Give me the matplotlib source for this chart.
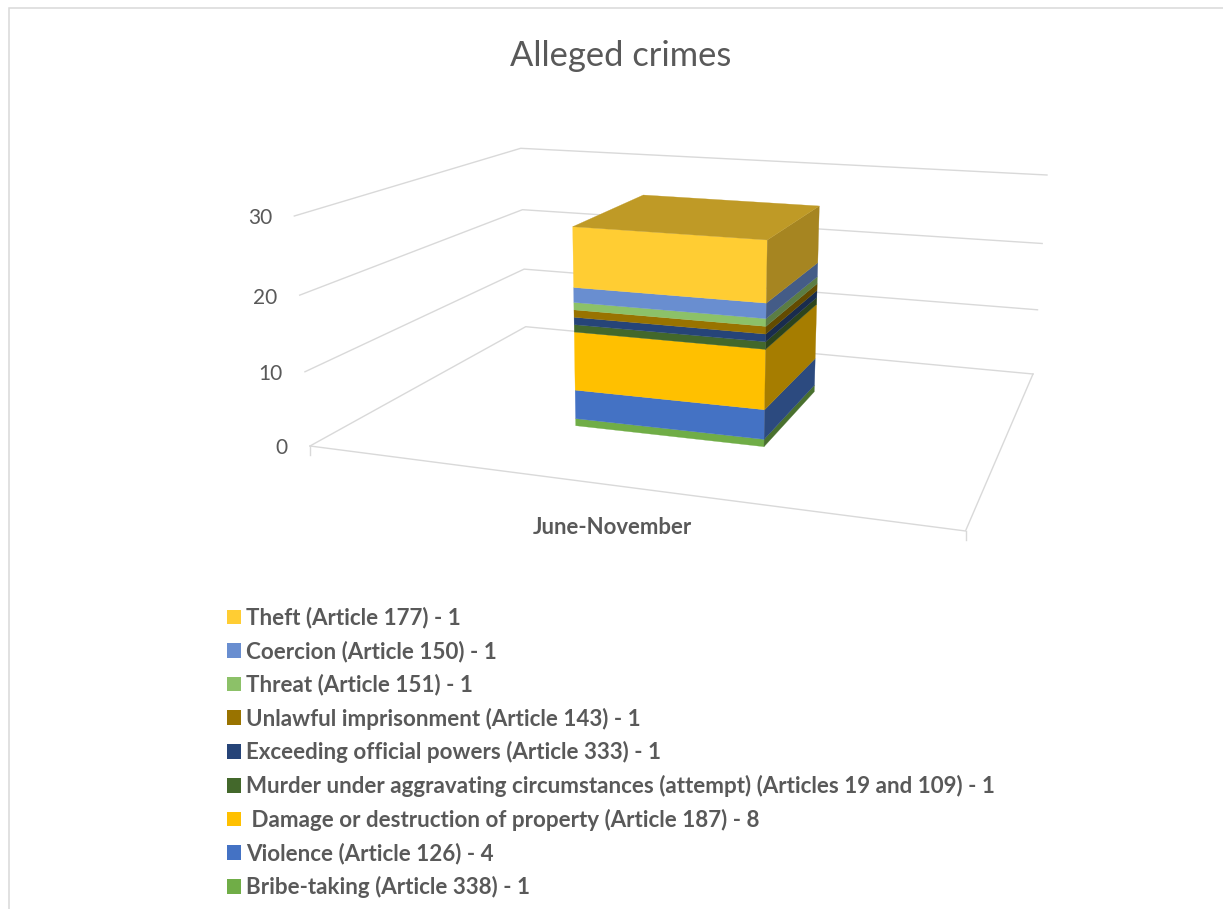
import numpy as np
import matplotlib
matplotlib.use("Agg")
import matplotlib.pyplot as plt
from matplotlib.patches import Polygon, Patch
from matplotlib.colors import to_rgb

plt.rcParams['font.family'] = ['Lato', 'DejaVu Sans']

# ---- data (bottom of the stack first)
title = "Alleged crimes"
category = "June-November"
series_labels = [
    "Bribe-taking (Article 338) - 1",
    "Violence (Article 126) - 4",
    " Damage or destruction of property (Article 187) - 8",
    "Murder under aggravating circumstances (attempt) (Articles 19 and 109) - 1",
    "Exceeding official powers (Article 333) - 1",
    "Unlawful imprisonment (Article 143) - 1",
    "Threat (Article 151) - 1",
    "Coercion (Article 150) - 1",
    "Theft (Article 177) - 1",
]
series_values = [1, 4, 8, 1, 1, 1, 1, 2, 8]
series_colors = ["#70AD47", "#4472C4", "#FFC000", "#43682B", "#264478",
                 "#997300", "#8CC168", "#698ED0", "#FFCD33"]
y_ticks = [0, 10, 20, 30]

# ---- projection of the 3D scene on the picture (pixel calibration)
PERSP = 0.00157
SIDE_SHADE, TOP_SHADE = 0.65, 0.75
FLOOR = {"fl": (310, 446), "fr": (965.5, 531), "br": (1033, 374), "bl": (525.7, 326.7)}
WALL30 = {"fl": (294.3, 216), "br": (1047, 175), "bl": (520.7, 148.3)}
BOX_BASE = {"fl": (575.7, 425.7), "fr": (764, 446.7), "br": (814.3, 391.7), "bl": (632, 372)}
BOX_TOP = {"fl": (572.7, 226.7), "fr": (767.3, 240), "br": (819.3, 206), "bl": (643.3, 195)}


def lift(v, vmax):
    return (v / vmax) * (1 - vmax * PERSP) / (1 - PERSP * v)


def pt(a, b, f):
    return (a[0] + (b[0] - a[0]) * f, a[1] + (b[1] - a[1]) * f)


def shade(c, k):
    return tuple(x * k for x in to_rgb(c))


fig = plt.figure(figsize=(12.23, 9.09), dpi=100)
ax = fig.add_axes([0, 0, 1, 1])
ax.set_xlim(0, 1223)
ax.set_ylim(909, 0)
ax.axis("off")

LINE = "#D9D9D9"
TEXT = "#595959"
lw = 1.0

# chart frame
ax.plot([9, 9, 1223], [909, 7.5, 7.5], color=LINE, lw=1.1, solid_joinstyle="miter")

# gridlines on the walls
vmax = max(y_ticks)
for t in y_ticks:
    f = lift(t, vmax)
    p = [pt(FLOOR[k], WALL30[k], f) for k in ("fl", "bl", "br")]
    ax.plot(*zip(*p), color=LINE, lw=lw)
    ax.text(p[0][0] - 22, p[0][1] + 2.5, str(t), ha="right", va="center",
            fontsize=15, color=TEXT)

# floor and ticks
floor_path = [FLOOR["fl"], FLOOR["fr"], FLOOR["br"]]
ax.plot(*zip(*floor_path), color=LINE, lw=lw)
for k in ("fl", "fr"):
    x, y = FLOOR[k]
    ax.plot([x, x], [y, y + 9], color=LINE, lw=lw)

# stacked 3D column
total = sum(series_values)
bottoms = np.cumsum([0] + series_values[:-1])
for val, bot, col in zip(series_values, bottoms, series_colors):
    f0, f1 = lift(bot, total), lift(bot + val, total)
    c = {k: (pt(BOX_BASE[k], BOX_TOP[k], f0), pt(BOX_BASE[k], BOX_TOP[k], f1)) for k in BOX_BASE}
    ax.add_patch(Polygon([c["fl"][0], c["fr"][0], c["fr"][1], c["fl"][1]],
                         facecolor=col, edgecolor=col, lw=0.2, zorder=3))
    sc = shade(col, SIDE_SHADE)
    ax.add_patch(Polygon([c["fr"][0], c["br"][0], c["br"][1], c["fr"][1]],
                         facecolor=sc, edgecolor=sc, lw=0.2, zorder=3))
tc = shade(series_colors[-1], TOP_SHADE)
ax.add_patch(Polygon([BOX_TOP[k] for k in ("fl", "fr", "br", "bl")],
                     facecolor=tc, edgecolor=tc, lw=0.2, zorder=3))

# texts
ax.text(621, 56, title, ha="center", va="center", fontsize=24.8, color=TEXT)
ax.text(612, 528, category, ha="center", va="center", fontsize=15.9, fontweight="bold", color=TEXT)

# legend (top to bottom is the reverse of the stack)
fs = 16.1
fs_px = fs * 100 / 72
handles = [Patch(facecolor=c, edgecolor="none", label=l)
           for c, l in zip(series_colors[::-1], series_labels[::-1])]
leg = ax.legend(handles=handles, loc="upper left", bbox_to_anchor=(227, 607),
                bbox_transform=ax.transData, frameon=False, borderpad=0,
                borderaxespad=0, handlelength=14 / fs_px, handleheight=14 / fs_px,
                handletextpad=5 / fs_px, labelspacing=0.527, labelcolor=TEXT,
                prop={"weight": "bold", "size": fs})

fig.savefig("out.png", dpi=100)
